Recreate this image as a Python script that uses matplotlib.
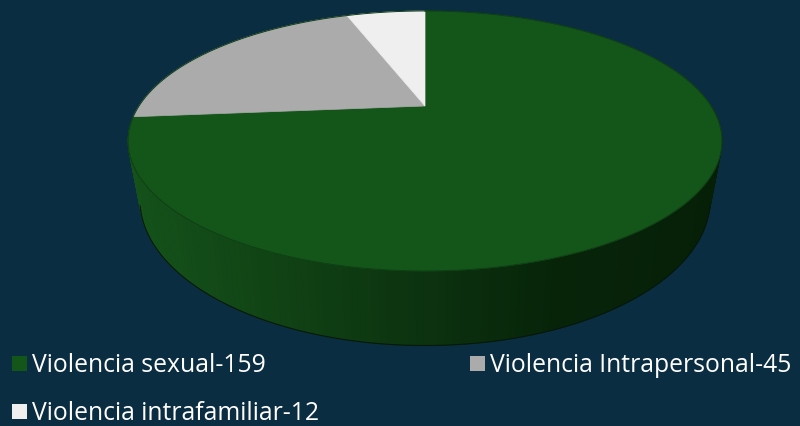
import numpy as np
import matplotlib
matplotlib.use("Agg")
import matplotlib.pyplot as plt
from matplotlib.patches import Polygon, Rectangle

# data
labels = ["Violencia sexual", "Violencia Intrapersonal", "Violencia intrafamiliar"]
values = [159, 45, 12]
colors = ["#14561A", "#ABABAB", "#EFEFEF"]
bg = "#0B2D42"

plt.rcParams['font.family'] = ['Open Sans', 'DejaVu Sans']

fig = plt.figure(figsize=(8, 4.27), dpi=100, facecolor=bg)
ax = fig.add_axes([0, 0, 1, 1])
ax.set_xlim(0, 800)
ax.set_ylim(427, 0)
ax.axis('off')
ax.set_facecolor(bg)

# perspective "3d" pie geometry (pixels)
cx, cy = 425, 107      # pie centre on the top face
A, B, k = 286, 120.6, 0.269
H = 54.5               # thickness
shrink = 0.96


def proj(phi, h=0.0):
    # phi clockwise from 12 o'clock, h=0 top face, h=1 bottom
    u = np.sin(phi)
    v = -np.cos(phi)
    w = 1 - k * v
    s = 1 - (1 - shrink) * h
    return cx + A * u / w * s, cy + B * v / w + H * h / w


fr = np.array(values) / np.sum(values)
edges = np.concatenate([[0], np.cumsum(fr)]) * 2 * np.pi

# side wall of the front part (only the first slice shows)
side_x = [130, 300, 450, 560, 720]
side_c = np.array([[0x15, 0x52, 0x1A], [0x10, 0x40, 0x14], [0x0B, 0x30, 0x0E],
                   [0x07, 0x24, 0x09], [0x06, 0x20, 0x08]]) / 255.0
a0 = max(edges[0], np.pi / 2)
a1 = min(edges[1], 3 * np.pi / 2)
ph = np.linspace(a0, a1, 160)
for p0, p1 in zip(ph[:-1], ph[1:]):
    x0t, y0t = proj(p0)
    x1t, y1t = proj(p1)
    x0b, y0b = proj(p0, 1)
    x1b, y1b = proj(p1, 1)
    xm = (x0t + x1t) / 2
    c = [np.interp(xm, side_x, side_c[:, j]) for j in range(3)]
    ax.add_patch(Polygon([(x0t, y0t), (x1t, y1t), (x1b, y1b), (x0b, y0b)],
                         closed=True, facecolor=c, edgecolor=c, lw=0.6))
phb = np.linspace(np.radians(108), np.radians(252), 200)
bx, by = proj(phb, 1)
ax.plot(bx, by, color="#05180A", lw=0.8)

# top face
for i in range(len(values)):
    phs = np.linspace(edges[i], edges[i + 1], 200)
    xs, ys = proj(phs)
    pts = [(cx, cy)] + list(zip(xs, ys))
    ax.add_patch(Polygon(pts, closed=True, facecolor=colors[i],
                         edgecolor=colors[i], lw=0.5))
phs = np.linspace(0, 2 * np.pi, 400)
xs, ys = proj(phs)
ax.plot(xs, ys, color="#0F3E14", lw=0.7)

# legend
leg_pos = [(12, 364), (470, 364), (12, 412)]
for i, (lx, ly) in enumerate(leg_pos):
    ax.add_patch(Rectangle((lx, ly - 7.5), 15, 15, facecolor=colors[i], edgecolor='none'))
    ax.text(lx + 20, ly + 2, "%s-%d" % (labels[i], values[i]), color="white",
            fontsize=17.8, va='center', ha='left')

fig.savefig("out.png", dpi=100, facecolor=bg)
